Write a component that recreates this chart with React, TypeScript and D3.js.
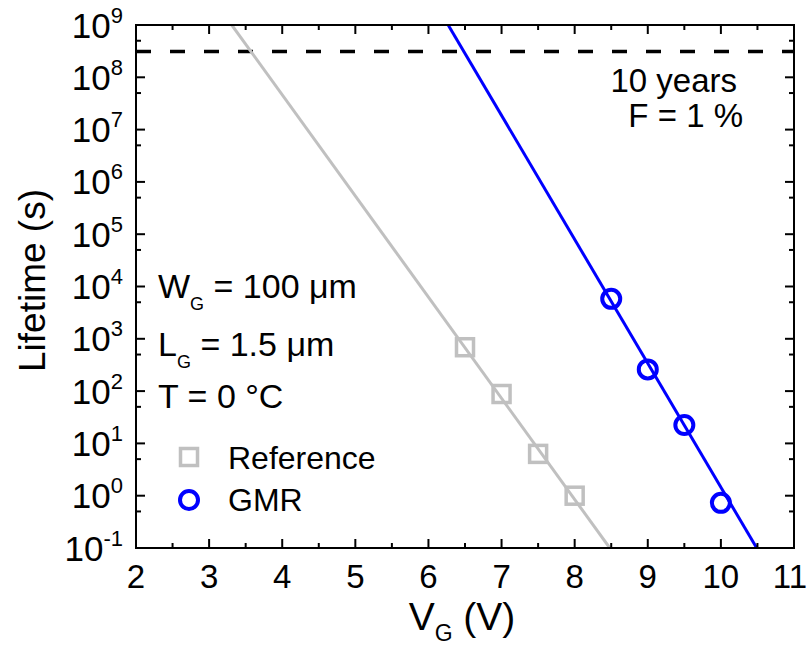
import { useEffect, useRef } from 'react';
import * as d3 from 'd3';

// measured points
const refV = [6.5, 7, 7.5, 8];
const refLife = [690, 88, 6.3, 1.0];
const gmrV = [8.5, 9, 9.5, 10];
const gmrLife = [5800, 260, 22.5, 0.73];

// fitted lines (end points)
const refFitV = [3.31, 8.48];
const refFitLife = [1e9, 1e-1];
const gmrFitV = [6.27, 10.49];
const gmrFitLife = [1e9, 1e-1];

const tenYears = 3.1e8;

const xTicks = [2, 3, 4, 5, 6, 7, 8, 9, 10, 11];
const xMinorTicks = [2.5, 3.5, 4.5, 5.5, 6.5, 7.5, 8.5, 9.5, 10.5];
const yExponents = [-1, 0, 1, 2, 3, 4, 5, 6, 7, 8, 9];

const FONT = "Arial, 'Liberation Sans', sans-serif";
const BLUE = '#0000ff';
const GRAY = '#c0c0c0';

const App = () => {
    const svgRef = useRef<SVGSVGElement>(null);

    useEffect(() => {
        const m = { left: 136, right: 794, top: 25, bottom: 548 };

        const svg = d3.select(svgRef.current);
        svg.selectAll('*').remove();

        const x = d3.scaleLinear().domain([2, 11]).range([m.left, m.right]);
        const y = d3.scaleLog().domain([1e-1, 1e9]).range([m.bottom, m.top]);

        svg.append('defs').append('clipPath').attr('id', 'plot-clip')
            .append('rect')
            .attr('x', m.left).attr('y', m.top)
            .attr('width', m.right - m.left).attr('height', m.bottom - m.top);

        const plot = svg.append('g').attr('clip-path', 'url(#plot-clip)');

        // 10 years line
        plot.append('line')
            .attr('x1', m.left).attr('x2', m.right)
            .attr('y1', y(tenYears)).attr('y2', y(tenYears))
            .attr('stroke', '#000')
            .attr('stroke-width', 3.5)
            .attr('stroke-dasharray', '15,19');

        const line = d3.line<[number, number]>()
            .x(d => x(d[0]))
            .y(d => y(d[1]));

        plot.append('path')
            .attr('d', line(refFitV.map((v, i) => [v, refFitLife[i]] as [number, number])))
            .attr('fill', 'none')
            .attr('stroke', GRAY)
            .attr('stroke-width', 3);

        plot.append('path')
            .attr('d', line(gmrFitV.map((v, i) => [v, gmrFitLife[i]] as [number, number])))
            .attr('fill', 'none')
            .attr('stroke', BLUE)
            .attr('stroke-width', 3);

        // markers
        const sq = 17;
        plot.selectAll('rect.ref')
            .data(refV)
            .enter().append('rect')
            .attr('class', 'ref')
            .attr('x', (d) => x(d) - sq / 2)
            .attr('y', (d, i) => y(refLife[i]) - sq / 2)
            .attr('width', sq).attr('height', sq)
            .attr('fill', 'none')
            .attr('stroke', GRAY)
            .attr('stroke-width', 3.5);

        plot.selectAll('circle.gmr')
            .data(gmrV)
            .enter().append('circle')
            .attr('class', 'gmr')
            .attr('cx', (d) => x(d))
            .attr('cy', (d, i) => y(gmrLife[i]))
            .attr('r', 9)
            .attr('fill', 'none')
            .attr('stroke', BLUE)
            .attr('stroke-width', 4);

        // frame
        svg.append('rect')
            .attr('x', m.left).attr('y', m.top)
            .attr('width', m.right - m.left).attr('height', m.bottom - m.top)
            .attr('fill', 'none')
            .attr('stroke', '#000')
            .attr('stroke-width', 2);

        const ticks = svg.append('g').attr('stroke', '#000').attr('stroke-width', 2);
        const major = 9, minor = 5;

        xTicks.forEach(t => {
            ticks.append('line').attr('x1', x(t)).attr('x2', x(t)).attr('y1', m.bottom).attr('y2', m.bottom - major);
            ticks.append('line').attr('x1', x(t)).attr('x2', x(t)).attr('y1', m.top).attr('y2', m.top + major);
        });
        xMinorTicks.forEach(t => {
            ticks.append('line').attr('x1', x(t)).attr('x2', x(t)).attr('y1', m.bottom).attr('y2', m.bottom - minor);
            ticks.append('line').attr('x1', x(t)).attr('x2', x(t)).attr('y1', m.top).attr('y2', m.top + minor);
        });
        yExponents.forEach(e => {
            const yy = y(Math.pow(10, e));
            ticks.append('line').attr('x1', m.left).attr('x2', m.left + major).attr('y1', yy).attr('y2', yy);
            ticks.append('line').attr('x1', m.right).attr('x2', m.right - major).attr('y1', yy).attr('y2', yy);
            if (e < 9) {
                const ym = y(5 * Math.pow(10, e));
                ticks.append('line').attr('x1', m.left).attr('x2', m.left + minor).attr('y1', ym).attr('y2', ym);
                ticks.append('line').attr('x1', m.right).attr('x2', m.right - minor).attr('y1', ym).attr('y2', ym);
            }
        });

        // x tick labels (last one nudged so it stays inside the page)
        svg.append('g').selectAll('text')
            .data(xTicks)
            .enter().append('text')
            .attr('x', d => Math.min(x(d), 790))
            .attr('y', 588)
            .attr('text-anchor', 'middle')
            .style('font-family', FONT)
            .style('font-size', '33px')
            .text(d => d);

        // y tick labels
        yExponents.forEach(e => {
            const t = svg.append('text')
                .attr('x', 123)
                .attr('y', y(Math.pow(10, e)) + 12.5)
                .attr('text-anchor', 'end')
                .style('font-family', FONT)
                .style('font-size', '35px');
            t.append('tspan').text('10');
            t.append('tspan').attr('dy', -15).style('font-size', '22px').text(e);
        });

        // axis titles
        svg.append('text')
            .attr('transform', `translate(45,${(m.top + m.bottom) / 2 - 6}) rotate(-90)`)
            .attr('text-anchor', 'middle')
            .style('font-family', FONT)
            .style('font-size', '37px')
            .text('Lifetime (s)');

        const xt = svg.append('text')
            .attr('x', 462)
            .attr('y', 630)
            .attr('text-anchor', 'middle')
            .style('font-family', FONT)
            .style('font-size', '39px');
        xt.append('tspan').text('V');
        xt.append('tspan').attr('dy', 11).style('font-size', '23px').text('G');
        xt.append('tspan').attr('dy', -11).text(' (V)');

        // annotations
        const ann = (ty: number, main: string, sub: string | null, rest: string) => {
            const t = svg.append('text')
                .attr('x', 158).attr('y', ty)
                .style('font-family', FONT)
                .style('font-size', '34px');
            t.append('tspan').text(main);
            if (sub) {
                t.append('tspan').attr('dy', 12).style('font-size', '18px').text(sub);
                t.append('tspan').attr('dy', -12).text(rest);
            } else {
                t.append('tspan').text(rest);
            }
        };
        ann(298, 'W', 'G', ' = 100 \u03bcm');
        ann(356, 'L', 'G', ' = 1.5 \u03bcm');
        ann(408, 'T', null, ' = 0 \u00b0C');

        svg.append('text')
            .attr('x', 737).attr('y', 92)
            .attr('text-anchor', 'end')
            .style('font-family', FONT)
            .style('font-size', '33px')
            .text('10 years');
        svg.append('text')
            .attr('x', 743).attr('y', 127)
            .attr('text-anchor', 'end')
            .style('font-family', FONT)
            .style('font-size', '33px')
            .text('F = 1 %');

        // legend
        svg.append('rect')
            .attr('x', 189 - sq / 2).attr('y', 457 - sq / 2)
            .attr('width', sq).attr('height', sq)
            .attr('fill', 'none')
            .attr('stroke', GRAY)
            .attr('stroke-width', 3.5);
        svg.append('text')
            .attr('x', 228).attr('y', 469)
            .style('font-family', FONT)
            .style('font-size', '32px')
            .text('Reference');
        svg.append('circle')
            .attr('cx', 189).attr('cy', 500)
            .attr('r', 9)
            .attr('fill', 'none')
            .attr('stroke', BLUE)
            .attr('stroke-width', 4);
        svg.append('text')
            .attr('x', 228).attr('y', 511)
            .style('font-family', FONT)
            .style('font-size', '32px')
            .text('GMR');
    }, []);

    return (
        <svg
            ref={svgRef}
            width={810}
            height={648}
            style={{ position: 'absolute', left: 0, top: 0, background: '#fff' }}
        />
    );
};

export default App;
